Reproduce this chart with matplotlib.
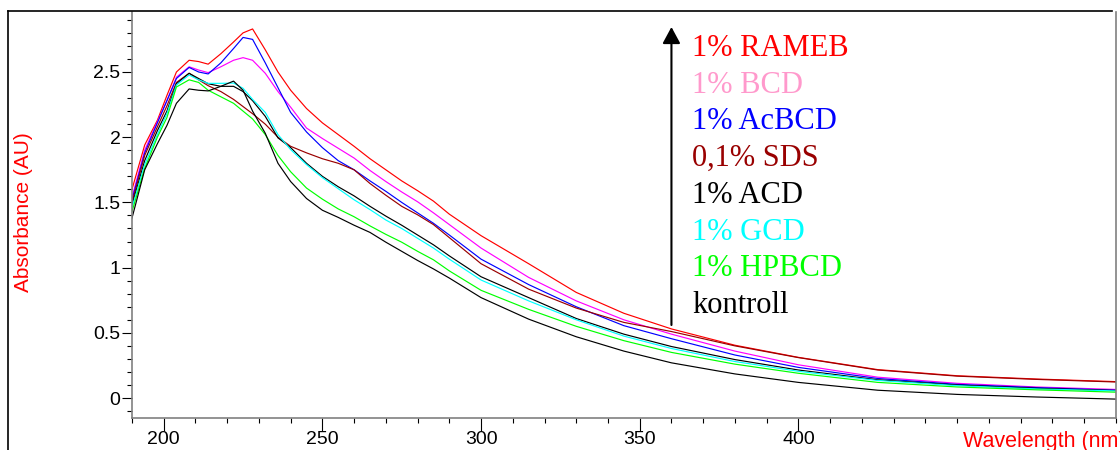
import matplotlib
matplotlib.use("Agg")
import matplotlib.pyplot as plt
from matplotlib.lines import Line2D
from matplotlib.ticker import MultipleLocator

# ---------------- data ----------------
wavelength = [190, 194, 198, 201, 204, 208, 211, 214, 218, 222, 225, 228, 232, 236, 240,
              245, 250, 255, 260, 265, 270, 275, 280, 285, 290, 300, 315, 330, 345, 360,
              380, 400, 425, 450, 475, 500]

rameb = [1.60, 1.94, 2.13, 2.32, 2.50, 2.59, 2.58, 2.56, 2.64, 2.73, 2.80, 2.83, 2.67, 2.50, 2.36,
         2.22, 2.11, 2.02, 1.93, 1.835, 1.75, 1.665, 1.59, 1.51, 1.41, 1.245, 1.03, 0.81, 0.65, 0.53,
         0.405, 0.312, 0.218, 0.171, 0.146, 0.126]
bcd = [1.54, 1.90, 2.12, 2.28, 2.46, 2.54, 2.515, 2.495, 2.54, 2.59, 2.61, 2.59, 2.49, 2.35, 2.23,
       2.07, 1.99, 1.915, 1.84, 1.745, 1.66, 1.58, 1.505, 1.42, 1.33, 1.15, 0.925, 0.745, 0.60, 0.49,
       0.36, 0.255, 0.16, 0.113, 0.085, 0.066]
acbcd = [1.52, 1.88, 2.11, 2.28, 2.45, 2.535, 2.50, 2.485, 2.57, 2.68, 2.765, 2.75, 2.57, 2.38, 2.19,
         2.04, 1.92, 1.82, 1.75, 1.665, 1.585, 1.50, 1.42, 1.34, 1.25, 1.065, 0.87, 0.70, 0.555, 0.455,
         0.33, 0.235, 0.15, 0.105, 0.08, 0.06]
sds = [1.50, 1.86, 2.08, 2.24, 2.42, 2.49, 2.44, 2.395, 2.35, 2.29, 2.235, 2.18, 2.10, 2.00, 1.93,
       1.88, 1.835, 1.80, 1.75, 1.645, 1.555, 1.47, 1.405, 1.33, 1.23, 1.03, 0.835, 0.69, 0.58, 0.51,
       0.40, 0.31, 0.215, 0.168, 0.143, 0.123]
acd = [1.48, 1.82, 2.05, 2.20, 2.41, 2.49, 2.45, 2.41, 2.39, 2.39, 2.35, 2.28, 2.16, 1.995, 1.92,
       1.80, 1.70, 1.62, 1.55, 1.47, 1.395, 1.325, 1.25, 1.175, 1.09, 0.93, 0.77, 0.61, 0.49, 0.395,
       0.295, 0.215, 0.14, 0.10, 0.075, 0.058]
gcd = [1.46, 1.79, 2.02, 2.18, 2.40, 2.477, 2.44, 2.413, 2.413, 2.415, 2.375, 2.29, 2.19, 2.02, 1.905,
       1.79, 1.69, 1.605, 1.52, 1.445, 1.365, 1.30, 1.225, 1.15, 1.065, 0.905, 0.745, 0.60, 0.475, 0.38,
       0.28, 0.205, 0.135, 0.095, 0.07, 0.055]
hpbcd = [1.43, 1.76, 2.00, 2.15, 2.385, 2.44, 2.42, 2.36, 2.31, 2.26, 2.20, 2.14, 2.02, 1.86, 1.735,
         1.61, 1.525, 1.45, 1.39, 1.32, 1.255, 1.195, 1.125, 1.06, 0.975, 0.826, 0.68, 0.55, 0.44, 0.35,
         0.26, 0.19, 0.12, 0.085, 0.063, 0.045]
kontroll = [1.38, 1.75, 1.95, 2.09, 2.26, 2.37, 2.36, 2.355, 2.39, 2.43, 2.36, 2.20, 2.03, 1.80, 1.66,
            1.53, 1.44, 1.385, 1.325, 1.27, 1.195, 1.125, 1.055, 0.99, 0.92, 0.77, 0.605, 0.47, 0.36, 0.27,
            0.185, 0.12, 0.06, 0.028, 0.008, -0.008]

series = [rameb, bcd, acbcd, sds, acd, gcd, hpbcd, kontroll]
line_colors = ["#ff0000", "#ff00ff", "#0000ff", "#990000", "#000000", "#00ffff", "#00ff00", "#000000"]
legend_labels = ["1% RAMEB", "1% BCD", "1% AcBCD", "0,1% SDS", "1% ACD", "1% GCD", "1% HPBCD", "kontroll"]
legend_colors = ["#ff0000", "#ff99cc", "#0000ff", "#990000", "#000000", "#00ffff", "#00ff00", "#000000"]

x_ticks = [200, 250, 300, 350, 400]
y_ticks = [0, 0.5, 1, 1.5, 2, 2.5]
y_tick_labels = ["0", "0.5", "1", "1.5", "2", "2.5"]

# ---------------- figure ----------------
W, H = 1120, 450
fig = plt.figure(figsize=(W / 100, H / 100), dpi=100)
ax = fig.add_axes([132 / W, 1 - 418 / H, (1115.7 - 132) / W, (418 - 12) / H])

for vals, c in zip(series, line_colors):
    ax.plot(wavelength, vals, color=c, lw=0.85)

ax.set_xlim(190, 500)
ax.set_ylim(-0.153, 2.96)

ax.set_xticks(x_ticks)
ax.xaxis.set_minor_locator(MultipleLocator(10))
ax.set_yticks(y_ticks)
ax.set_yticklabels(y_tick_labels)
ax.yaxis.set_minor_locator(MultipleLocator(0.1))

ax.tick_params(axis="x", which="major", direction="out", length=9.4, width=0.8,
               labelsize=14, pad=0.3, colors="black")
ax.tick_params(axis="x", which="minor", direction="out", length=3.6, width=0.8)
ax.tick_params(axis="y", which="major", direction="out", length=7.2, width=0.8,
               labelsize=14, pad=1)
ax.tick_params(axis="y", which="minor", direction="out", length=3.6, width=0.8)
for lab in ax.get_xticklabels() + ax.get_yticklabels():
    lab.set_fontfamily("Liberation Sans")

for side in ["left", "bottom", "right"]:
    ax.spines[side].set_color("#808080")
    ax.spines[side].set_linewidth(1.2)
ax.spines["top"].set_visible(False)

# axis titles
fig.text(24 / W, 1 - 212 / H, "Absorbance (AU)", rotation=90, color="red",
         fontsize=15, family="Liberation Sans", ha="center", va="center")
fig.text(963 / W, 2.5 / H, "Wavelength (nm)", color="red", fontsize=15.5,
         family="Liberation Sans", ha="left", va="baseline")

# legend text
for i, (lab, c) in enumerate(zip(legend_labels, legend_colors)):
    fig.text(692 / W, 1 - (56 + 36.7 * i) / H, lab, color=c, fontsize=22,
             family="Liberation Serif", ha="left", va="baseline")

# arrow
ax.annotate("", xy=(360, 2.845), xytext=(360, 0.56), xycoords="data",
            arrowprops=dict(arrowstyle="-|>,head_length=0.5,head_width=0.27",
                            mutation_scale=20, lw=1.5, color="black",
                            shrinkA=0, shrinkB=0))

# outer frame lines (left and top)
fig.add_artist(Line2D([8 / W, 8 / W], [0, 1 - 11 / H], transform=fig.transFigure,
                      color="black", lw=1.2))
fig.add_artist(Line2D([8 / W, 1112 / W], [1 - 11 / H, 1 - 11 / H], transform=fig.transFigure,
                      color="black", lw=1.2))

fig.savefig("out.png", dpi=100)
